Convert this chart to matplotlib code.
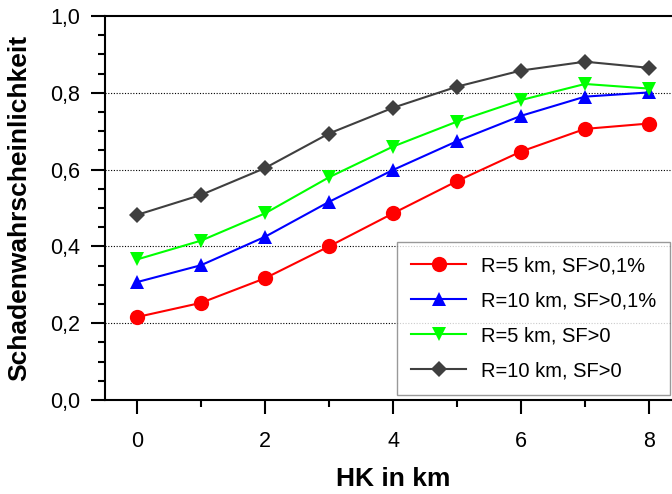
import matplotlib
matplotlib.use("Agg")
import matplotlib.pyplot as plt
from matplotlib.ticker import MultipleLocator, FuncFormatter

plt.rcParams['font.family'] = ['Liberation Sans', 'DejaVu Sans']

hk = [0, 1, 2, 3, 4, 5, 6, 7, 8]
r5_sf01 = [0.216, 0.253, 0.317, 0.400, 0.486, 0.570, 0.647, 0.706, 0.720]
r10_sf01 = [0.307, 0.351, 0.425, 0.516, 0.599, 0.674, 0.740, 0.790, 0.801]
r5_sf0 = [0.366, 0.415, 0.486, 0.580, 0.660, 0.725, 0.781, 0.823, 0.811]
r10_sf0 = [0.482, 0.534, 0.604, 0.694, 0.761, 0.816, 0.858, 0.881, 0.865]
labels = ["R=5 km, SF>0,1%", "R=10 km, SF>0,1%", "R=5 km, SF>0", "R=10 km, SF>0"]

fig = plt.figure(figsize=(6.72, 4.94), dpi=100)
ax = fig.add_axes([105/672, 1-400/494, (681-105)/672, (400-16)/494])

styles = [
    (r5_sf01, '#ff0000', 'o', 11),
    (r10_sf01, '#0000ff', '^', 10),
    (r5_sf0, '#00ff00', 'v', 10),
    (r10_sf0, '#3f3f3f', 'D', 8),
]
for (vals, c, m, ms), lab in zip(styles, labels):
    ax.plot(hk, vals, color=c, marker=m, markersize=ms, linewidth=1.5,
            markeredgewidth=0, label=lab, zorder=3)

ax.set_xlim(-0.5, 8.5)
ax.set_ylim(0, 1.0)
ax.xaxis.set_major_locator(MultipleLocator(2))
ax.xaxis.set_minor_locator(MultipleLocator(1))
ax.yaxis.set_major_locator(MultipleLocator(0.2))
ax.yaxis.set_minor_locator(MultipleLocator(0.05))
ax.yaxis.set_major_formatter(FuncFormatter(lambda v, p: f"{v:.1f}".replace('.', ',')))

ax.tick_params(which='major', direction='out', length=10, width=1.5, labelsize=15.5, pad=8)
ax.tick_params(which='minor', direction='out', length=5, width=1.5)
ax.tick_params(axis='x', which='major', pad=12)
for s in ax.spines.values():
    s.set_linewidth(1.5)

for yv in [0.2, 0.4, 0.6, 0.8]:
    ax.axhline(yv, color='black', linestyle=(0, (1, 1.5)), linewidth=0.8, zorder=1)

ax.set_xlabel("HK in km", fontsize=19, fontweight='bold')
ax.set_ylabel("Schadenwahrscheinlichkeit", fontsize=19, fontweight='bold')
ax.xaxis.set_label_coords(0.5, -67/384, transform=ax.transAxes)
ax.yaxis.set_label_coords(-74/576, 0.5, transform=ax.transAxes)

leg = fig.legend(loc='upper left', bbox_to_anchor=(397/672, 1-242/494),
                 bbox_transform=fig.transFigure, borderaxespad=0, fontsize=14.5,
                 frameon=True, fancybox=False, edgecolor='#808080', handlelength=2.75,
                 labelspacing=0.8, borderpad=0.7, handletextpad=0.7)
leg.get_frame().set_linewidth(1.0)

fig.savefig("out.png", dpi=100)
